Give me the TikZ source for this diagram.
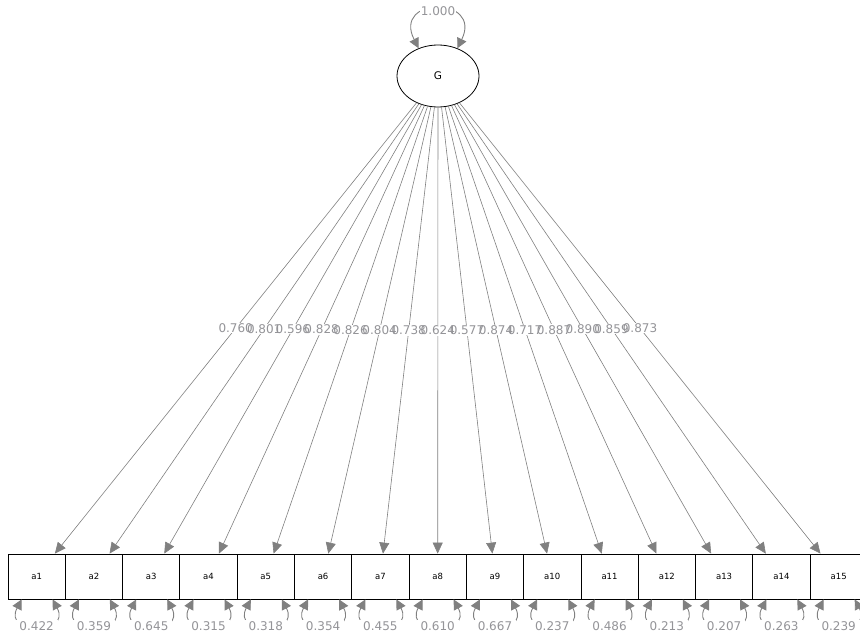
\documentclass[tikz,border=0pt]{standalone}
\usepackage{fontspec}
\setmainfont{DejaVu Sans}
\usepackage{tikz}
\usetikzlibrary{arrows.meta, calc, shapes.geometric}

\definecolor{edgegray}{RGB}{128,128,128}
\definecolor{labelgray}{RGB}{148,148,152}

\tikzset{
  manifest/.style={draw=black, line width=0.8pt, minimum width=57.3pt, minimum height=45pt,
    inner sep=0pt, font=\fontsize{8.5}{10}\selectfont},
  latent/.style={draw=black, ellipse, line width=0.8pt, minimum width=82pt, minimum height=62pt,
    inner sep=0pt, font=\fontsize{10.5}{12}\selectfont},
  loading/.style={draw=edgegray, line width=0.6pt, -{Triangle[length=11pt,width=10pt]}},
  varloop/.style={draw=edgegray, line width=0.9pt,
    {Triangle[length=10pt,width=10pt]}-{Triangle[length=10pt,width=10pt]}},
  estlbl/.style={text=labelgray, font=\fontsize{12}{14}\selectfont, inner sep=0.6pt},
  estbg/.style={estlbl, fill=white, text opacity=0},
  resid/.style={estlbl, fill=white, inner xsep=4pt, inner ysep=1.5pt},
}

\begin{document}
\begin{tikzpicture}[x=1pt, y=-1pt]
        \useasboundingbox (0,0) rectangle (860,632);

        % ==========================================
        % LATENT FACTOR
        % ==========================================
        \node[latent] (G) at (438, 76) {G};

        % Variance loop of G
        \draw[varloop] (G.125) .. controls ([xshift=-46pt, yshift=80pt]G.center)
            and ([xshift=45pt, yshift=80pt]G.center) .. (G.55);
        \node[estlbl, fill=white] (Gvar) at ([yshift=65pt]G.center) {1.000};

        % ==========================================
        % INDICATORS a1 ... a15
        % ==========================================
        \foreach \i in {1,...,15}
            \node[manifest] (a\i) at ({8 + 57.29*(\i - 0.5)}, 576.5) {a\i};

        % Loadings: arrows with a white patch where the estimate goes
        \foreach \i/\l in {1/0.760, 2/0.801, 3/0.596, 4/0.828, 5/0.826, 6/0.804, 7/0.738, 8/0.624,
                           9/0.577, 10/0.874, 11/0.717, 12/0.887, 13/0.890, 14/0.859, 15/0.873}
            \draw[loading] (G) -- (a\i) node[estbg, pos=0.5] {\l};

        % Loading estimates
        \foreach \i/\l in {1/0.760, 2/0.801, 3/0.596, 4/0.828, 5/0.826, 6/0.804, 7/0.738, 8/0.624,
                           9/0.577, 10/0.874, 11/0.717, 12/0.887, 13/0.890, 14/0.859, 15/0.873}
            \path (G) -- (a\i) node[estlbl, pos=0.5] (l\i) {\l};

        % Residual variances
        \foreach \i/\v in {1/0.422, 2/0.359, 3/0.645, 4/0.315, 5/0.318, 6/0.354, 7/0.455, 8/0.610,
                           9/0.667, 10/0.237, 11/0.486, 12/0.213, 13/0.207, 14/0.263, 15/0.239} {
            \draw[varloop] ([xshift=-15pt]a\i.south) .. controls ([xshift=-34pt, yshift=-36pt]a\i.south)
                and ([xshift=35pt, yshift=-36pt]a\i.south) .. ([xshift=16pt]a\i.south);
            \node[resid] (r\i) at ([yshift=-26.5pt]a\i.south) {\v};
        }

    \end{tikzpicture}
\end{document}
